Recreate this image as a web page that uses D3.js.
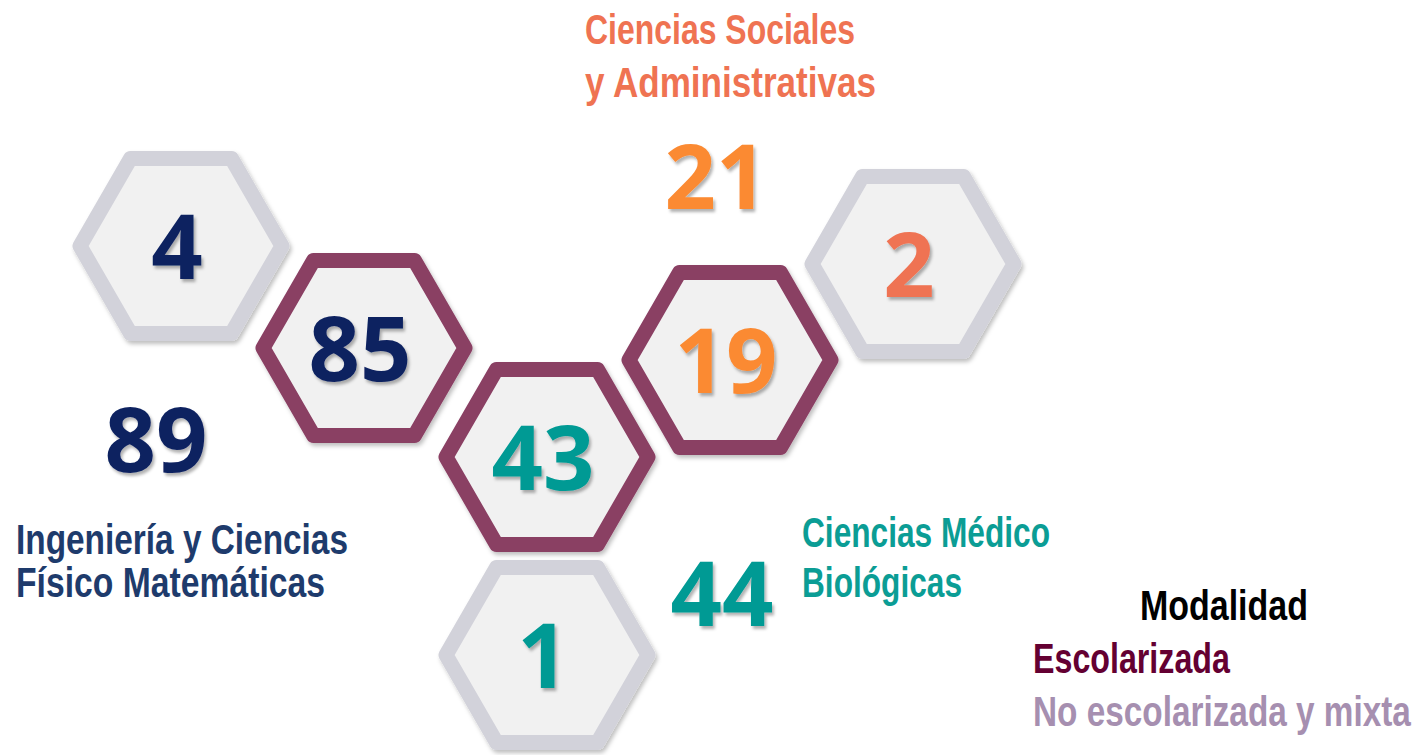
<!DOCTYPE html>
<html>
<head>
<meta charset="utf-8">
<script src="https://cdn.jsdelivr.net/npm/d3@7"></script>
<style>
  body { margin: 0; background: #fff; }
  svg { display: block; }
  text { font-family: "Open Sans", "Noto Sans", sans-serif; }
  text.lbl { font-family: "Liberation Sans", Arial, sans-serif; }
</style>
</head>
<body>
<svg id="canvas" width="1425" height="755"></svg>
<script>
// datos
let categories = [
  ["Ingeniería y Ciencias", "Físico Matemáticas"],
  ["Ciencias Médico", "Biológicas"],
  ["Ciencias Sociales", "y Administrativas"]
];
let escolarizada = [85, 43, 19];
let noEscolarizada = [4, 1, 2];
let totales = [89, 44, 21];
let modalidades = ["Escolarizada", "No escolarizada y mixta"];
let legendTitle = "Modalidad";

// colores
let numColor = ["#0d2261", "#009a94", "#fb8a33"];
let numColorNo = ["#0d2261", "#009a94", "#ef7352"];
let labelColor = ["#1e3b6c", "#0b9d95", "#ef7352"];
let modColor = ["#8a3f63", "#d2d2da"];
let legendColor = ["#640032", "#a68fb0"];

// posiciones de la retícula de hexágonos (columna, y del centro)
let escCol = [1, 2, 3];
let escY = [348, 457, 360];
let noCol = [0, 2, 4];
let noY = [246, 655, 264];
let totalPos = [[156, 472], [722, 626], [716, 209]];
let labelPos = [[16, 554, 597, 332, 309], [802, 547, 597, 248, 160], [585, 44, 97, 270, 291]];

let canvas = d3.select("#canvas");
let x = d3.scaleLinear().domain([0, 4]).range([181, 913]);

let defs = canvas.append("defs");
defs.append("filter").attr("id", "sombra")
  .attr("x", "-20%").attr("y", "-20%").attr("width", "140%").attr("height", "140%")
  .append("feDropShadow")
  .attr("dx", 2).attr("dy", 3).attr("stdDeviation", 2)
  .attr("flood-color", "#000").attr("flood-opacity", 0.25);
defs.append("filter").attr("id", "sombraTxt")
  .attr("x", "-20%").attr("y", "-20%").attr("width", "140%").attr("height", "140%")
  .append("feDropShadow")
  .attr("dx", 2).attr("dy", 3).attr("stdDeviation", 1.5)
  .attr("flood-color", "#000").attr("flood-opacity", 0.3);

let R = 101;
let hexPoints = d3.range(6).map((i) => {
  let a = (Math.PI / 3) * i;
  return [R * Math.cos(a), R * Math.sin(a)];
});
let hexLine = d3.line().curve(d3.curveLinearClosed);

let hexes = [];
categories.forEach((c, i) => {
  hexes.push({ cx: x(noCol[i]), cy: noY[i], value: noEscolarizada[i], mod: 1, color: numColorNo[i] });
  hexes.push({ cx: x(escCol[i]), cy: escY[i], value: escolarizada[i], mod: 0, color: numColor[i] });
});

let g = canvas.selectAll("g.hex")
  .data(hexes)
  .enter()
  .append("g")
  .attr("class", "hex")
  .attr("transform", (d) => "translate(" + d.cx + "," + d.cy + ")");

g.append("path")
  .attr("d", hexLine(hexPoints))
  .attr("fill", "#f1f1f1")
  .attr("stroke", (d) => modColor[d.mod])
  .attr("stroke-width", 15)
  .attr("stroke-linejoin", "round")
  .attr("filter", "url(#sombra)");

g.append("text")
  .attr("x", -4)
  .attr("y", 33)
  .attr("text-anchor", "middle")
  .attr("font-size", 90)
  .attr("font-weight", 700)
  .attr("fill", (d) => d.color)
  .attr("filter", "url(#sombraTxt)")
  .text((d) => d.value);

// totales
canvas.selectAll("text.total")
  .data(totales)
  .enter()
  .append("text")
  .attr("class", "total")
  .attr("x", (d, i) => totalPos[i][0])
  .attr("y", (d, i) => totalPos[i][1])
  .attr("text-anchor", "middle")
  .attr("font-size", 90)
  .attr("font-weight", 700)
  .attr("fill", (d, i) => numColor[i])
  .attr("filter", "url(#sombraTxt)")
  .text((d) => d);

// etiquetas de área (un texto con dos renglones)
categories.forEach((lines, i) => {
  let t = canvas.append("text")
    .attr("class", "lbl")
    .attr("font-size", 42)
    .attr("font-weight", 700)
    .attr("fill", labelColor[i]);
  lines.forEach((line, j) => {
    t.append("tspan")
      .attr("x", labelPos[i][0])
      .attr("y", labelPos[i][1 + j])
      .attr("textLength", labelPos[i][3 + j])
      .attr("lengthAdjust", "spacingAndGlyphs")
      .text(line);
  });
});

// texto angosto: se comprime con scale para que quepa en el ancho dado
let narrowText = (txt, px, py, w, color) => {
  let t = canvas.append("text")
    .attr("class", "lbl")
    .attr("font-size", 42)
    .attr("font-weight", 700)
    .attr("fill", color)
    .text(txt);
  let natural = t.node().getComputedTextLength();
  t.attr("transform", "translate(" + px + "," + py + ") scale(" + (w / natural) + ",1)");
  return t;
};

// leyenda
narrowText(legendTitle, 1140, 620, 168, "#000");
let legendW = [197, 378];
modalidades.forEach((d, i) => {
  narrowText(d, 1033, 673 + i * 53, legendW[i], legendColor[i]);
});
</script>
</body>
</html>
